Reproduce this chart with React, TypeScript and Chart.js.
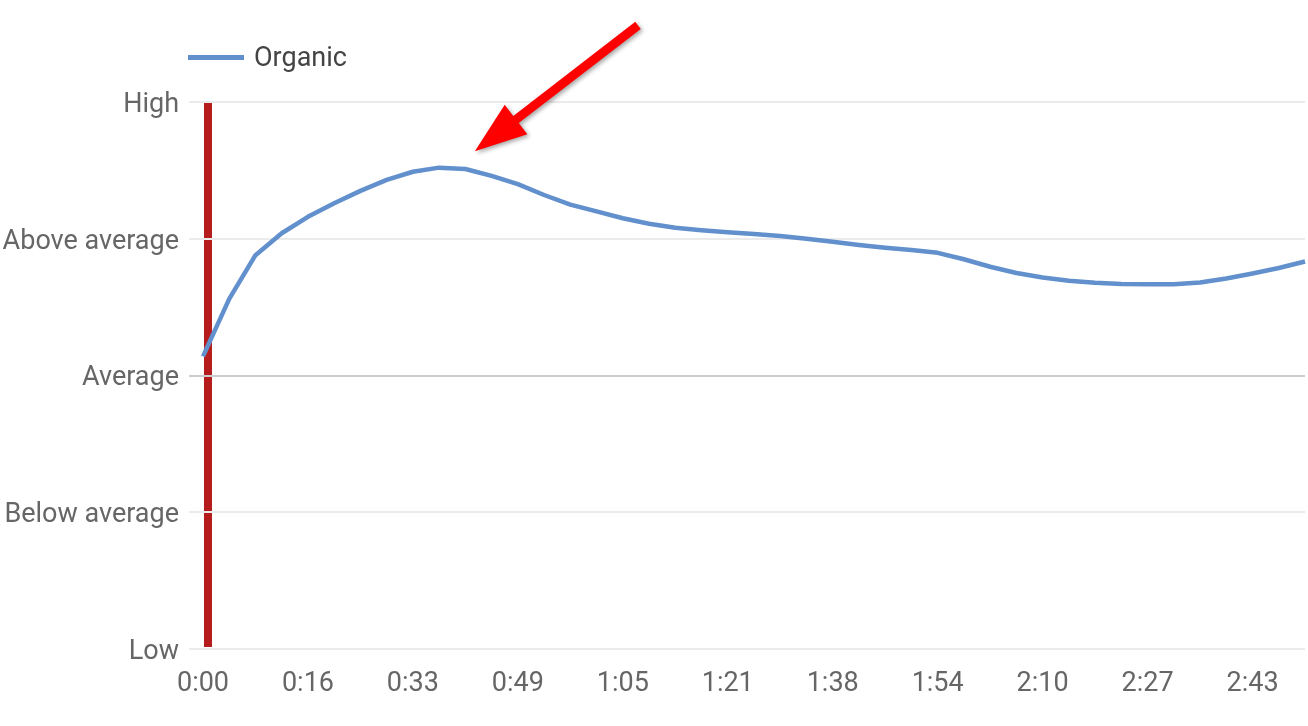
import React, { useEffect, useRef } from "react";
import { Chart, registerables } from "chart.js";

Chart.register(...registerables);

// ---- data ----
const timeLabels = [
  "0:00", "0:04", "0:08", "0:12", "0:16", "0:20", "0:24", "0:28", "0:33", "0:37",
  "0:41", "0:45", "0:49", "0:53", "0:57", "1:01", "1:05", "1:09", "1:13", "1:17",
  "1:21", "1:25", "1:30", "1:34", "1:38", "1:42", "1:46", "1:50", "1:54", "1:58",
  "2:02", "2:06", "2:10", "2:14", "2:18", "2:22", "2:27", "2:31", "2:35", "2:39",
  "2:43", "2:47", "2:51",
];

const organicValues = [
  2.14, 2.56, 2.88, 3.04, 3.16, 3.26, 3.35, 3.43, 3.49, 3.52,
  3.51, 3.46, 3.40, 3.32, 3.25, 3.20, 3.15, 3.11, 3.08, 3.063,
  3.048, 3.035, 3.02, 3.00, 2.978, 2.955, 2.935, 2.917, 2.897, 2.85,
  2.795, 2.75, 2.717, 2.693, 2.678, 2.67, 2.667, 2.668, 2.68, 2.709,
  2.746, 2.786, 2.834,
];

const levelLabels = ["Low", "Below average", "Average", "Above average", "High"];
const seriesName = "Organic";

// playback position marker (in category index units)
const markerIndex = 0.19;
// annotation arrow (index, value) pointing at the peak
const arrowTip = { index: 10.36, value: 3.64 };
const arrowTail = { index: 16.58, value: 4.56 };

const LINE_COLOR = "#6190cd";
const FONT = "Roboto, 'Noto Sans', sans-serif";

const markerPlugin = {
  id: "marker",
  beforeDraw(chart: any) {
    const { ctx, chartArea, scales } = chart;
    const x = scales.x.getPixelForValue(markerIndex);
    ctx.save();
    ctx.fillStyle = "#b71c1c";
    ctx.fillRect(x - 4, chartArea.top, 8, chartArea.bottom - chartArea.top - 2);
    ctx.restore();
  },
};

const arrowPlugin = {
  id: "arrow",
  afterDraw(chart: any) {
    const { ctx, scales } = chart;
    const tx = scales.x.getPixelForValue(arrowTip.index);
    const ty = scales.y.getPixelForValue(arrowTip.value);
    const sx = scales.x.getPixelForValue(arrowTail.index);
    const sy = scales.y.getPixelForValue(arrowTail.value);
    const L = Math.hypot(tx - sx, ty - sy);
    const ang = Math.atan2(ty - sy, tx - sx);
    const w = 9;
    const h = 52;
    const H = 18.5;
    ctx.save();
    ctx.translate(sx, sy);
    ctx.rotate(ang);
    ctx.shadowColor = "rgba(0,0,0,0.35)";
    ctx.shadowBlur = 4;
    ctx.shadowOffsetX = 2;
    ctx.shadowOffsetY = 2;
    ctx.fillStyle = "#ff0000";
    ctx.beginPath();
    ctx.moveTo(0, -w / 2);
    ctx.lineTo(L - h, -w / 2);
    ctx.lineTo(L - h, -H);
    ctx.lineTo(L, 0);
    ctx.lineTo(L - h, H);
    ctx.lineTo(L - h, w / 2);
    ctx.lineTo(0, w / 2);
    ctx.closePath();
    ctx.fill();
    ctx.restore();
  },
};

export default function App() {
  const canvasRef = useRef<HTMLCanvasElement | null>(null);

  useEffect(() => {
    if (!canvasRef.current) return;
    const chart = new Chart(canvasRef.current, {
      type: "line",
      data: {
        labels: timeLabels,
        datasets: [
          {
            label: seriesName,
            data: organicValues,
            borderColor: LINE_COLOR,
            backgroundColor: LINE_COLOR,
            borderWidth: 4.5,
            pointRadius: 0,
            pointHoverRadius: 0,
            tension: 0,
            fill: false,
            borderJoinStyle: "round",
            borderCapStyle: "butt",
          },
        ],
      },
      options: {
        responsive: false,
        animation: false,
        layout: { padding: { top: 102, right: 3, bottom: 0, left: 0 } },
        plugins: {
          legend: { display: false },
          tooltip: { enabled: false },
        },
        scales: {
          x: {
            type: "category",
            grid: { display: false, drawTicks: true, tickLength: 19 },
            border: { display: false },
            ticks: {
              autoSkip: false,
              maxRotation: 0,
              minRotation: 0,
              padding: 0,
              color: "#666666",
              font: { family: FONT, size: 27 },
              callback: (_v: any, idx: number) => (idx % 4 === 0 ? timeLabels[idx] : ""),
            },
            afterFit: (s: any) => {
              s.height = 77;
            },
          },
          y: {
            type: "linear",
            min: 0,
            max: 4,
            border: { display: false },
            grid: {
              color: (c: any) => (c.tick && c.tick.value === 2 ? "#cccccc" : "#ebebeb"),
              lineWidth: 2,
              tickLength: 14,
              drawTicks: true,
            },
            ticks: {
              stepSize: 1,
              padding: 10,
              labelOffset: 3,
              color: "#666666",
              font: { family: FONT, size: 27 },
              callback: (v: any) => levelLabels[v] ?? "",
            },
            afterFit: (s: any) => {
              s.width = 203;
            },
          },
        },
      },
      plugins: [markerPlugin, arrowPlugin],
    });
    return () => chart.destroy();
  }, []);

  return (
    <div
      style={{
        position: "fixed",
        left: 0,
        top: 0,
        width: 1308,
        height: 726,
        background: "#ffffff",
        overflow: "hidden",
      }}
    >
      <canvas ref={canvasRef} width={1308} height={726} style={{ display: "block" }} />
      <div
        style={{
          position: "absolute",
          left: 188,
          top: 41,
          height: 32,
          display: "flex",
          alignItems: "center",
          fontFamily: FONT,
          fontSize: 27,
          lineHeight: "32px",
          color: "#444444",
        }}
      >
        <span
          style={{
            display: "inline-block",
            width: 56,
            height: 5,
            background: LINE_COLOR,
            marginRight: 10,
          }}
        />
        <span>{seriesName}</span>
      </div>
    </div>
  );
}
